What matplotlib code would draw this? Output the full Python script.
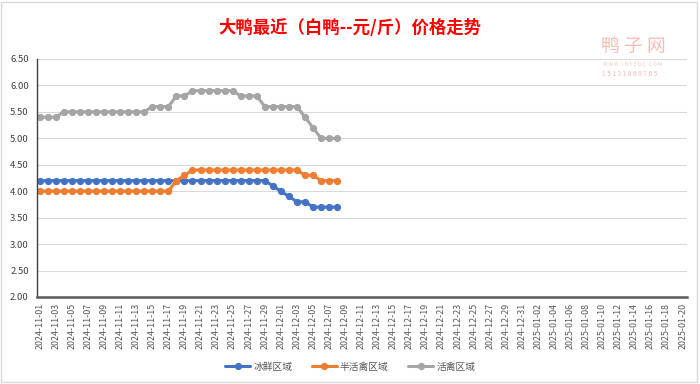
import pandas as pd
import matplotlib
matplotlib.use('Agg')
import matplotlib.pyplot as plt
import matplotlib.dates as mdates
from matplotlib.patches import Rectangle

plt.rcParams['font.family'] = ['Noto Sans CJK SC', 'DejaVu Sans']
plt.rcParams['axes.unicode_minus'] = False

# 数据：2024-11-01 起每天一个点
dates = pd.date_range('2024-11-01', periods=38, freq='D')
bingxian = [4.2] * 29 + [4.1, 4.0, 3.9, 3.8, 3.8, 3.7, 3.7, 3.7, 3.7]          # 冰鲜区域
banhuoqin = [4.0] * 17 + [4.2, 4.3] + [4.4] * 14 + [4.3, 4.3, 4.2, 4.2, 4.2]  # 半活禽区域
huoqin = ([5.4] * 3 + [5.5] * 11 + [5.6] * 3 + [5.8] * 2 + [5.9] * 6
          + [5.8] * 3 + [5.6] * 5 + [5.4, 5.2, 5.0, 5.0, 5.0])                 # 活禽区域
tick_dates = pd.date_range('2024-11-01', '2025-01-20', freq='2D')
series_names = ['冰鲜区域', '半活禽区域', '活禽区域']
colors = ['#4472C4', '#ED7D31', '#A5A5A5']

fig = plt.figure(figsize=(7, 3.84), dpi=100)
ax = fig.add_axes([0.053, 0.2266, 0.928, 0.6198])

for vals, name, c in zip([bingxian, banhuoqin, huoqin], series_names, colors):
    ax.plot(dates, vals, color=c, lw=2.2, marker='o', markersize=4.2,
            label=name, solid_capstyle='round')

ax.set_ylim(2.0, 6.5)
ax.set_yticks([2.0 + 0.5 * i for i in range(10)])
ax.yaxis.set_major_formatter(plt.FormatStrFormatter('%.2f'))
ax.set_xlim(tick_dates[0] - pd.Timedelta(hours=8), tick_dates[-1] + pd.Timedelta(hours=12))
ax.set_xticks(tick_dates)
ax.xaxis.set_major_formatter(mdates.DateFormatter('%Y-%m-%d'))
ax.tick_params(axis='x', rotation=90, labelsize=6.4, colors='#595959', length=0, pad=4)
ax.tick_params(axis='y', labelsize=6.8, colors='#404040', length=0, pad=6)
ax.grid(axis='y', color='#D9D9D9', lw=0.8)
ax.set_axisbelow(True)
for s in ['top', 'right']:
    ax.spines[s].set_visible(False)
ax.spines['left'].set_color('#404040')
ax.spines['left'].set_linewidth(1.0)
ax.spines['bottom'].set_color('#595959')
ax.spines['bottom'].set_linewidth(1.8)

fig.text(0.5, 0.928, '大鸭最近（白鸭--元/斤）价格走势', ha='center', va='center',
         color='#FF0000', fontsize=12.5, fontweight='heavy')

# 水印
fig.text(0.905, 0.88, '鸭 子 网', ha='center', va='center', color='#F2A9A0',
         fontsize=13.5, alpha=0.75)
fig.text(0.904, 0.832, 'W W W . I N T E D C . C O M', ha='center', va='center',
         color='#F2B8B0', fontsize=3.6, alpha=0.8)
fig.text(0.9, 0.808, '1 5 1 3 1 0 6 9 7 6 5', ha='center', va='center', color='#F2A9A0',
         fontsize=4.8, alpha=0.8)

fig.legend(loc='center', bbox_to_anchor=(0.5, 0.045), ncol=3, frameon=False,
           fontsize=7, handlelength=2.6, columnspacing=2.0, handletextpad=0.3,
           labelcolor='#595959')

fig.patches.append(Rectangle((0.002, 0.004), 0.994, 0.992, transform=fig.transFigure,
                             fill=False, ec='#D9D9D9', lw=1))

fig.savefig('out.png', dpi=100)
